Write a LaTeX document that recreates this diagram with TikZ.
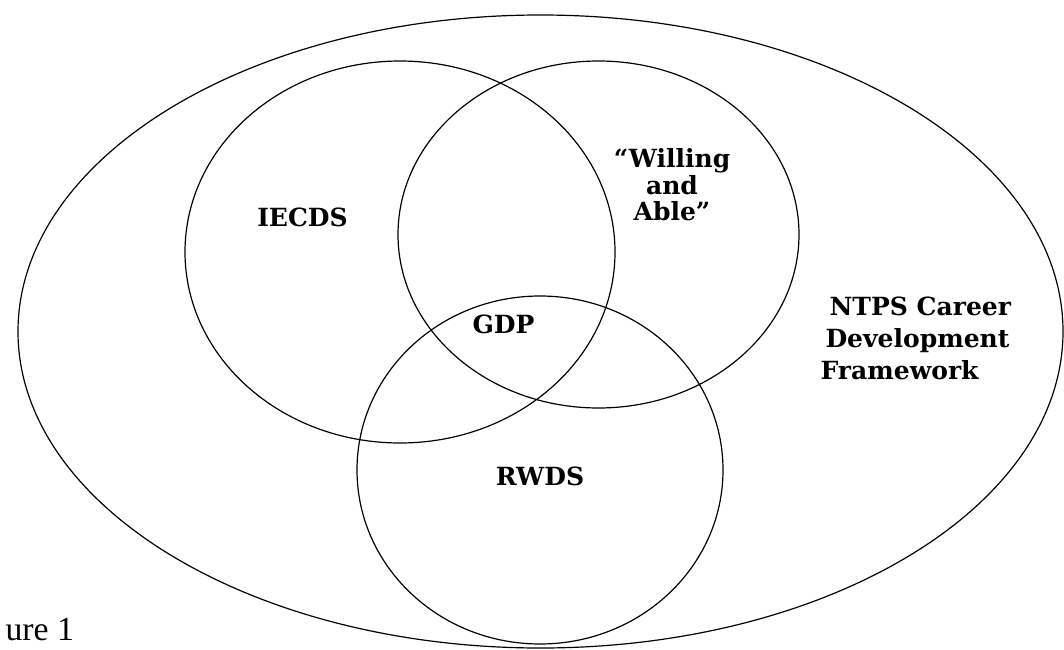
\documentclass[tikz,border=0pt]{standalone}
\usepackage{fontspec}
\setmainfont{DejaVu Serif}
\newfontfamily\capfont{Liberation Serif}
\usetikzlibrary{positioning}
\def\frameworkrx{522.5}
\def\frameworkry{316.5}

\begin{document}
\begin{tikzpicture}[x=0.025cm, y=-0.025cm, line width=0.85pt]
	\tikzset{
		setlabel/.style={font=\bfseries\fontsize{17.8}{18.8}\selectfont, align=center, inner sep=0pt},
		framelabel/.style={font=\bfseries\fontsize{17.8}{22.7}\selectfont, align=left, inner sep=0pt},
	}
	\useasboundingbox (0,0) rectangle (1064,650);
	% outer framework and the three sets
	\draw (540.5,331.5) ellipse [x radius=\frameworkrx, y radius=\frameworkry];
	\draw (400,252) ellipse [x radius=215, y radius=191];
	\draw (598.5,234.5) ellipse [x radius=200.5, y radius=173.5];
	\draw (540,470) ellipse [x radius=183, y radius=174];
	\node[setlabel, anchor=base] (iecds) at (302.5,226) {IECDS};
	\node[setlabel, anchor=north] (willing) at (672,148) {“Willing\\and\\Able”};
	\node[setlabel, anchor=base] (gdp) at (503.5,333) {GDP};
	\node[setlabel, anchor=base] (rwds) at (540,485) {RWDS};
	\node[framelabel, anchor=north west] (ntps) at (820,296)
		{\hspace*{6.4pt}NTPS Career\\\hspace*{3.5pt}Development\\Framework};
	\node[font=\capfont\fontsize{24}{28}\selectfont, anchor=base west, inner sep=0pt] (fig) at (5,640) {ure 1};
\end{tikzpicture}
\end{document}
